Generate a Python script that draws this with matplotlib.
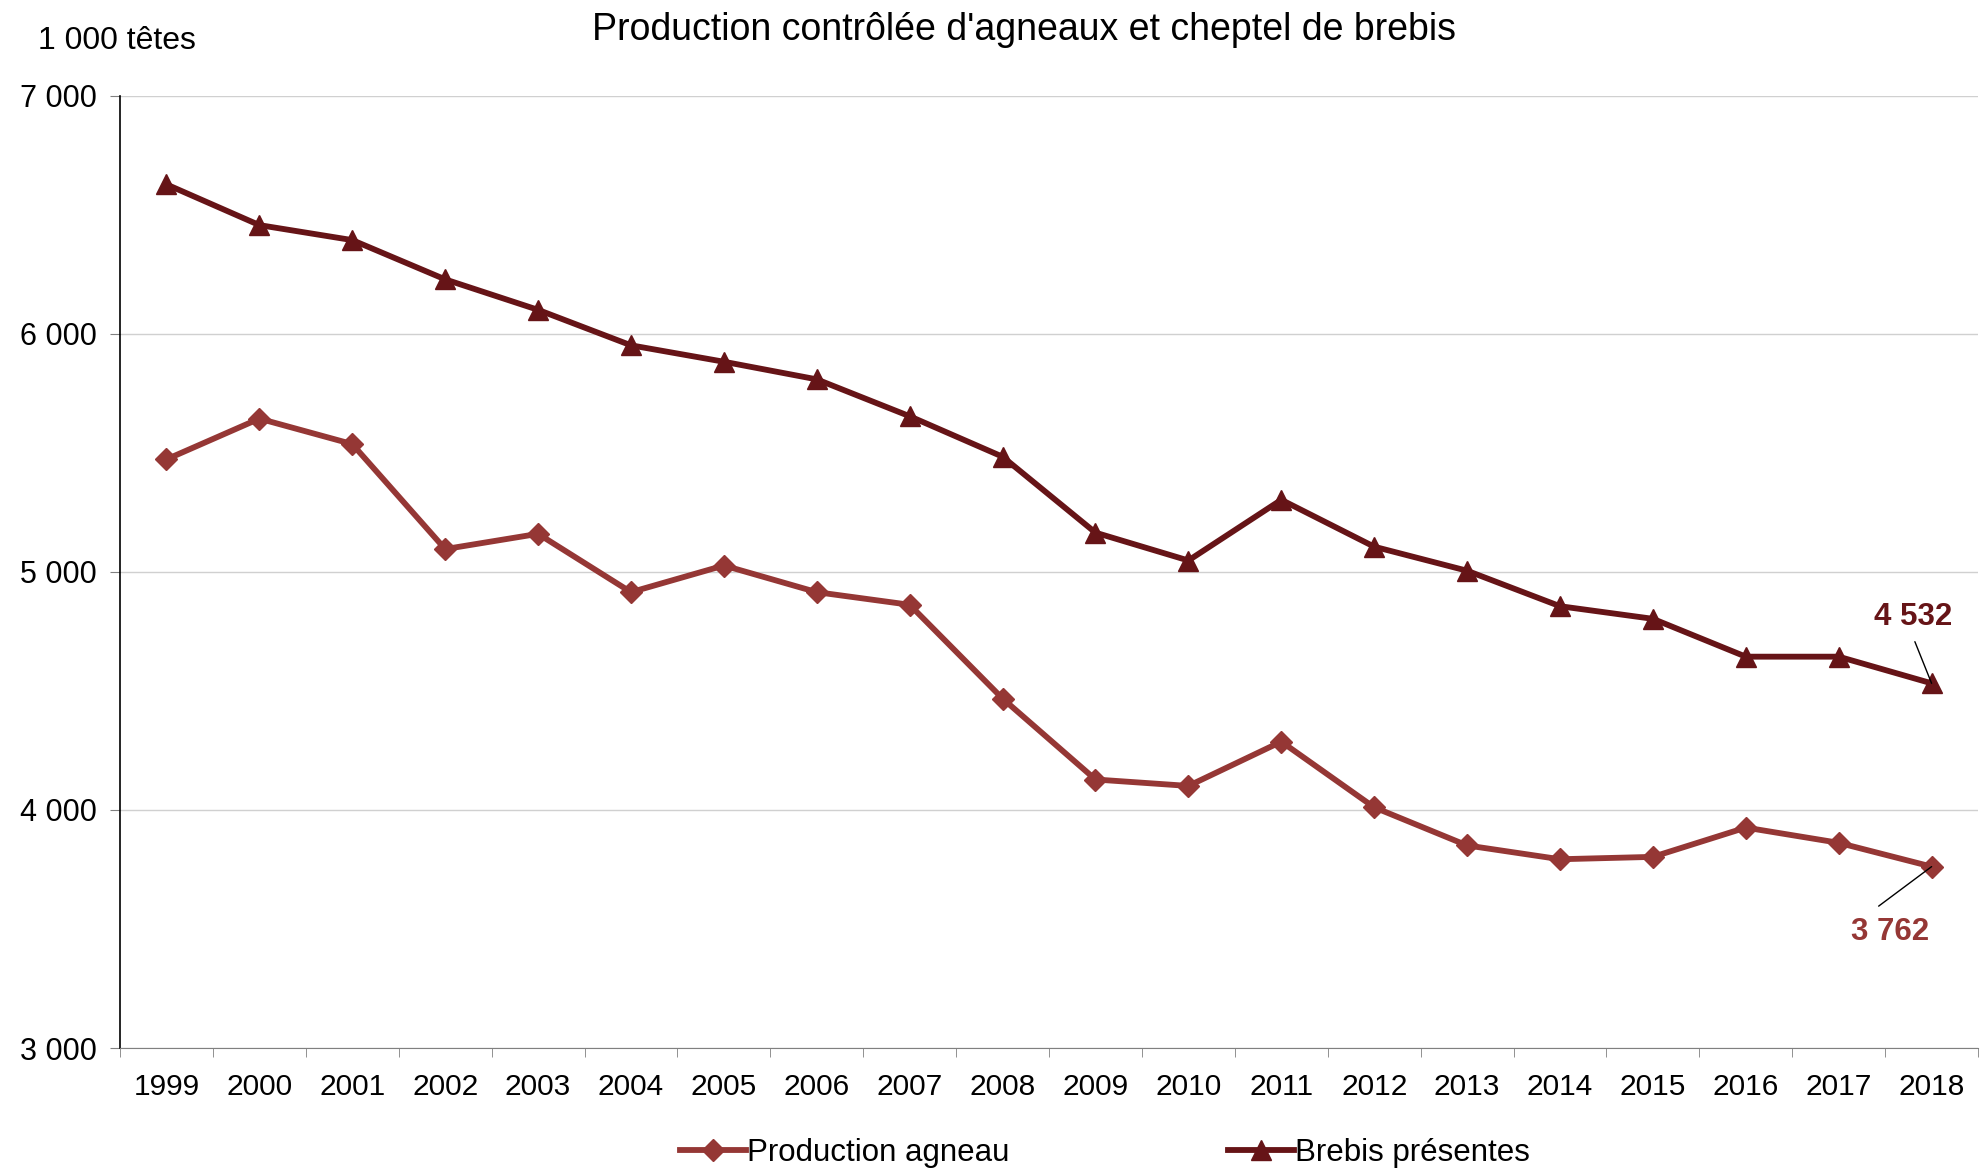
import matplotlib
matplotlib.use('Agg')
import matplotlib.pyplot as plt
from matplotlib.ticker import FixedLocator, FuncFormatter

plt.rcParams['font.family'] = ['Liberation Sans', 'DejaVu Sans']

# data (1 000 tetes)
years = [str(y) for y in range(1999, 2019)]
production_agneau = [5473, 5644, 5537, 5096, 5160, 4915, 5027, 4915, 4862, 4468,
                     4128, 4101, 4287, 4011, 3851, 3793, 3803, 3926, 3862, 3762]
brebis_presentes = [6628, 6457, 6394, 6229, 6101, 5952, 5883, 5809, 5654, 5484,
                    5165, 5048, 5303, 5106, 5005, 4856, 4803, 4644, 4644, 4532]
y_ticks = [3000, 4000, 5000, 6000, 7000]

COL_PROD = '#953735'
COL_BREB = '#661417'


def fmt_thousands(v, pos=None):
    return f"{int(v):,}".replace(',', ' ')


def main():
    fig = plt.figure(figsize=(19.84, 11.69), dpi=100)
    ax = fig.add_axes([0.0605, 0.1035, 0.9365, 0.8145])

    x = list(range(len(years)))
    ax.plot(x, production_agneau, color=COL_PROD, lw=4.2, marker='D',
            markersize=11.5, label='Production agneau', zorder=3)
    ax.plot(x, brebis_presentes, color=COL_BREB, lw=4.2, marker='^',
            markersize=14.5, label='Brebis présentes', zorder=3)

    ax.set_xlim(-0.5, len(years) - 0.5)
    ax.set_ylim(3000, 7000)
    ax.set_yticks(y_ticks)
    ax.yaxis.set_major_formatter(FuncFormatter(fmt_thousands))
    ax.set_xticks(x)
    ax.set_xticklabels(years)
    ax.xaxis.set_minor_locator(FixedLocator([i - 0.5 for i in range(len(years) + 1)]))
    ax.tick_params(axis='x', which='major', length=0, pad=18, labelsize=21.5)
    ax.tick_params(axis='x', which='minor', length=6.5, color='#808080')
    ax.tick_params(axis='y', which='major', length=7, color='#808080',
                   labelsize=22, pad=10)

    ax.grid(axis='y', color='#d0d0d0', lw=1)
    ax.set_axisbelow(True)
    for s in ['top', 'right']:
        ax.spines[s].set_visible(False)
    ax.spines['left'].set_color('black')
    ax.spines['bottom'].set_color('#808080')
    ax.spines['left'].set_linewidth(1.2)

    # end-of-series labels
    last = len(years) - 1
    ax.annotate('', xy=(last, brebis_presentes[-1]), xytext=(18.82, 4707),
                arrowprops=dict(arrowstyle='-', color='black', lw=1,
                                shrinkA=0, shrinkB=0))
    ax.text(18.8, 4809, fmt_thousands(brebis_presentes[-1]), color=COL_BREB,
            fontsize=22.5, fontweight='bold', ha='center', va='center')
    ax.annotate('', xy=(last, production_agneau[-1]), xytext=(18.43, 3596),
                arrowprops=dict(arrowstyle='-', color='black', lw=1,
                                shrinkA=0, shrinkB=0))
    ax.text(18.55, 3489, fmt_thousands(production_agneau[-1]), color=COL_PROD,
            fontsize=22.5, fontweight='bold', ha='center', va='center')

    fig.text(0.516, 0.974, "Production contrôlée d'agneaux et cheptel de brebis",
             fontsize=27, ha='center', va='center')
    fig.text(0.019, 0.965, '1 000 têtes', fontsize=23, ha='left', va='center')

    fig.legend(loc='center', bbox_to_anchor=(0.557, 0.014), ncol=2, frameon=False,
               fontsize=22.5, columnspacing=7, handlelength=2.1, handletextpad=0.05)

    fig.savefig('out.png', dpi=100)
    plt.close(fig)


if __name__ == "__main__":
    main()
